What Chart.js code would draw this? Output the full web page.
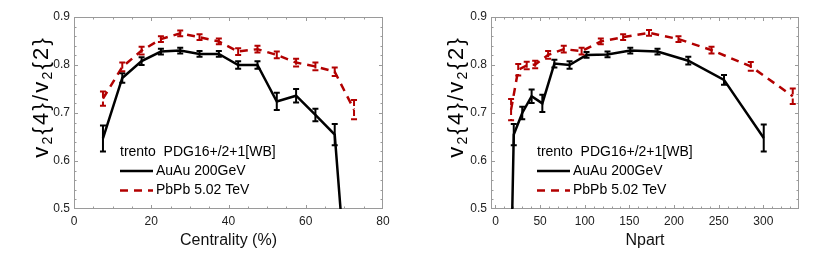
<!DOCTYPE html>
<html>
<head>
<meta charset="utf-8">
<script src="https://cdn.jsdelivr.net/npm/chart.js@4.4.1/dist/chart.umd.min.js"></script>
<style>
  body { margin: 0; background: #fff; }
  .row { display: flex; width: 830px; height: 260px; }
  canvas { display: block; }
</style>
</head>
<body>
<div class="row">
  <canvas id="centChart" width="415" height="260"></canvas>
  <canvas id="npartChart" width="415" height="260"></canvas>
</div>
<script>
// left panel, x = centrality (%)
var centrality = [7.5, 12.5, 17.5, 22.5, 27.5, 32.5, 37.5, 42.5, 47.5, 52.5, 57.5, 62.5, 67.5, 72.5];
var auauCent    = [0.647, 0.773, 0.808, 0.828, 0.830, 0.823, 0.823, 0.800, 0.800, 0.724, 0.736, 0.696, 0.655, 0.14];
var auauCentErr = [0.027, 0.010, 0.008, 0.006, 0.006, 0.006, 0.006, 0.008, 0.008, 0.018, 0.014, 0.013, 0.022, 0.03];
var pbpbCent    = [0.730, 0.796, 0.830, 0.854, 0.866, 0.858, 0.849, 0.828, 0.833, 0.821, 0.805, 0.797, 0.786, 0.707];
var pbpbCentErr = [0.015, 0.009, 0.008, 0.006, 0.006, 0.006, 0.006, 0.007, 0.007, 0.007, 0.008, 0.008, 0.009, 0.020];

// right panel, x = Npart
var npartAuAu    = [15, 20.5, 30, 40.5, 52.5, 66, 83, 102, 125.5, 151, 181.5, 216, 256, 300.5];
var auauNpart    = [0.14, 0.655, 0.700, 0.735, 0.720, 0.803, 0.800, 0.821, 0.822, 0.830, 0.828, 0.809, 0.769, 0.648];
var auauNpartErr = [0.03, 0.022, 0.013, 0.014, 0.018, 0.008, 0.008, 0.006, 0.006, 0.006, 0.006, 0.008, 0.010, 0.028];
var npartPbPb    = [17.5, 25.5, 35, 44.5, 59, 76.5, 96.5, 118, 143, 172, 205, 242, 286, 333];
var pbpbNpart    = [0.707, 0.790, 0.799, 0.801, 0.821, 0.833, 0.829, 0.849, 0.858, 0.867, 0.854, 0.831, 0.797, 0.735];
var pbpbNpartErr = [0.022, 0.012, 0.008, 0.008, 0.008, 0.007, 0.007, 0.006, 0.006, 0.006, 0.006, 0.007, 0.009, 0.016];

var yTicks = [0.5, 0.6, 0.7, 0.8, 0.9];
var seriesNames = ['AuAu 200GeV', 'PbPb 5.02 TeV'];
var legendTitle = 'trento  PDG16+/2+1[WB]';

var FONT = "'Liberation Sans', Arial, sans-serif";
var RED = '#b20000';

function pts(xs, ys) {
  return xs.map(function (x, i) { return { x: x, y: ys[i] }; });
}

// error bars drawn from the y scale (dashing of the series is kept, as in the original)
var errorBars = {
  id: 'errorBars',
  afterDatasetsDraw: function (chart) {
    var ctx = chart.ctx, a = chart.chartArea, ys = chart.scales.y;
    ctx.save();
    ctx.beginPath();
    ctx.rect(a.left, a.top, a.right - a.left, a.bottom - a.top);
    ctx.clip();
    chart.data.datasets.forEach(function (ds, i) {
      var meta = chart.getDatasetMeta(i);
      ctx.strokeStyle = ds.borderColor;
      ctx.lineWidth = 2;
      ctx.setLineDash(ds.borderDash ? [6, 4] : []);
      meta.data.forEach(function (pt, j) {
        var v = ds.data[j].y, e = ds.err[j];
        var top = ys.getPixelForValue(v + e), bot = ys.getPixelForValue(v - e);
        ctx.beginPath();
        ctx.moveTo(pt.x, top); ctx.lineTo(pt.x, bot);
        ctx.moveTo(pt.x - 3, top); ctx.lineTo(pt.x + 3, top);
        ctx.moveTo(pt.x - 3, bot); ctx.lineTo(pt.x + 3, bot);
        ctx.stroke();
      });
    });
    ctx.restore();
  }
};

// box frame with inward ticks on all four sides
var frame = {
  id: 'frame',
  beforeDatasetsDraw: function (chart, args, opts) {
    var ctx = chart.ctx, a = chart.chartArea;
    var xs = chart.scales.x, ys = chart.scales.y;
    ctx.save();
    ctx.strokeStyle = '#9a9a9a';
    ctx.lineWidth = 1;
    ctx.strokeRect(a.left + 0.5, a.top + 0.5, a.right - a.left - 1, a.bottom - a.top - 1);
    ctx.beginPath();
    var v, p, len;
    for (v = Math.ceil(xs.min / opts.xMinor) * opts.xMinor; v <= xs.max + 1e-9; v += opts.xMinor) {
      p = Math.round(xs.getPixelForValue(v)) + 0.5;
      if (p < a.left + 1 || p > a.right - 1) continue;
      len = Math.abs(v / opts.xMajor - Math.round(v / opts.xMajor)) < 1e-6 ? 4 : 2.5;
      ctx.moveTo(p, a.bottom); ctx.lineTo(p, a.bottom - len);
      ctx.moveTo(p, a.top); ctx.lineTo(p, a.top + len);
    }
    for (v = 0.52; v < 0.89; v += 0.02) {
      p = Math.round(ys.getPixelForValue(v)) + 0.5;
      len = Math.abs(v * 10 - Math.round(v * 10)) < 1e-6 ? 4 : 2.5;
      ctx.moveTo(a.left, p); ctx.lineTo(a.left + len, p);
      ctx.moveTo(a.right, p); ctx.lineTo(a.right - len, p);
    }
    ctx.stroke();
    ctx.restore();
  }
};

// legend inside the plot, and the rotated y title with subscripts
var inLegend = {
  id: 'inLegend',
  afterDraw: function (chart) {
    var ctx = chart.ctx, a = chart.chartArea;
    var x0 = a.left + 46;
    ctx.save();
    ctx.font = '14px ' + FONT;
    ctx.fillStyle = '#000';
    ctx.textBaseline = 'middle';
    ctx.fillText(legendTitle, x0, 152);
    chart.data.datasets.forEach(function (ds, i) {
      var y = 171 + i * 19.5;
      ctx.strokeStyle = ds.borderColor;
      ctx.lineWidth = 2.5;
      ctx.setLineDash(ds.borderDash || []);
      ctx.beginPath();
      ctx.moveTo(x0, y); ctx.lineTo(x0 + 33, y);
      ctx.stroke();
      ctx.setLineDash([]);
      ctx.fillText(ds.label, x0 + 36, y);
    });

    // y axis title v2{4}/v2{2}
    ctx.translate(42, 98);
    ctx.rotate(-Math.PI / 2);
    var parts = [['v', 0], ['2', 1], ['{', 0], ['4', 0], ['}', 0], ['/', 0], ['v', 0], ['2', 1], ['{', 0], ['2', 0], ['}', 0]];
    var gap = 2.2, w = 0;
    parts.forEach(function (q) {
      ctx.font = (q[1] ? '14px ' : '22px ') + FONT;
      w += ctx.measureText(q[0]).width + gap;
    });
    w -= gap;
    var cx = -w / 2;
    ctx.textBaseline = 'alphabetic';
    parts.forEach(function (q) {
      ctx.font = (q[1] ? '14px ' : '22px ') + FONT;
      ctx.fillText(q[0], cx, q[1] ? 10 : 6);
      cx += ctx.measureText(q[0]).width + gap;
    });
    ctx.restore();
  }
};

function makeChart(id, cfg) {
  return new Chart(document.getElementById(id), {
    type: 'scatter',
    data: {
      datasets: [{
        label: seriesNames[0],
        data: pts(cfg.xA, cfg.yA),
        err: cfg.eA,
        showLine: true,
        borderColor: '#000',
        backgroundColor: '#000',
        borderWidth: 2.5,
        pointRadius: 0
      }, {
        label: seriesNames[1],
        data: pts(cfg.xB, cfg.yB),
        err: cfg.eB,
        showLine: true,
        borderColor: RED,
        backgroundColor: RED,
        borderWidth: 2.5,
        borderDash: [8, 6],
        pointRadius: 0
      }]
    },
    options: {
      responsive: false,
      animation: false,
      layout: { padding: { top: 17, right: cfg.padRight, left: 0, bottom: 0 } },
      scales: {
        x: {
          type: 'linear',
          min: cfg.xMin,
          max: cfg.xMax,
          afterFit: function (s) { s.height = 51; },
          grid: { display: false, drawTicks: false },
          border: { display: false },
          ticks: {
            stepSize: cfg.xMajor,
            includeBounds: false,
            padding: 5,
            color: '#222',
            font: { family: FONT, size: 12 },
            maxRotation: 0
          },
          title: {
            display: true,
            text: cfg.xTitle,
            color: '#111',
            font: { family: FONT, size: 16 },
            padding: { top: 0, bottom: 10 }
          }
        },
        y: {
          min: 0.5,
          max: 0.9,
          afterFit: function (s) { s.width = cfg.yWidth; },
          afterBuildTicks: function (s) { s.ticks = yTicks.map(function (v) { return { value: v }; }); },
          grid: { display: false, drawTicks: false },
          border: { display: false },
          ticks: {
            padding: 4,
            color: '#222',
            font: { family: FONT, size: 12 },
            callback: function (v) { return v.toFixed(1); }
          }
        }
      },
      plugins: {
        legend: { display: false },
        tooltip: { enabled: false },
        frame: { xMajor: cfg.xMajor, xMinor: cfg.xMinor }
      }
    },
    plugins: [frame, errorBars, inLegend]
  });
}

makeChart('centChart', {
  xA: centrality, yA: auauCent, eA: auauCentErr,
  xB: centrality, yB: pbpbCent, eB: pbpbCentErr,
  xMin: 0, xMax: 80, xMajor: 20, xMinor: 5,
  xTitle: 'Centrality (%)', yWidth: 74, padRight: 32
});

makeChart('npartChart', {
  xA: npartAuAu, yA: auauNpart, eA: auauNpartErr,
  xB: npartPbPb, yB: pbpbNpart, eB: pbpbNpartErr,
  xMin: -5, xMax: 340, xMajor: 50, xMinor: 10,
  xTitle: 'Npart', yWidth: 76, padRight: 31
});
</script>
</body>
</html>
